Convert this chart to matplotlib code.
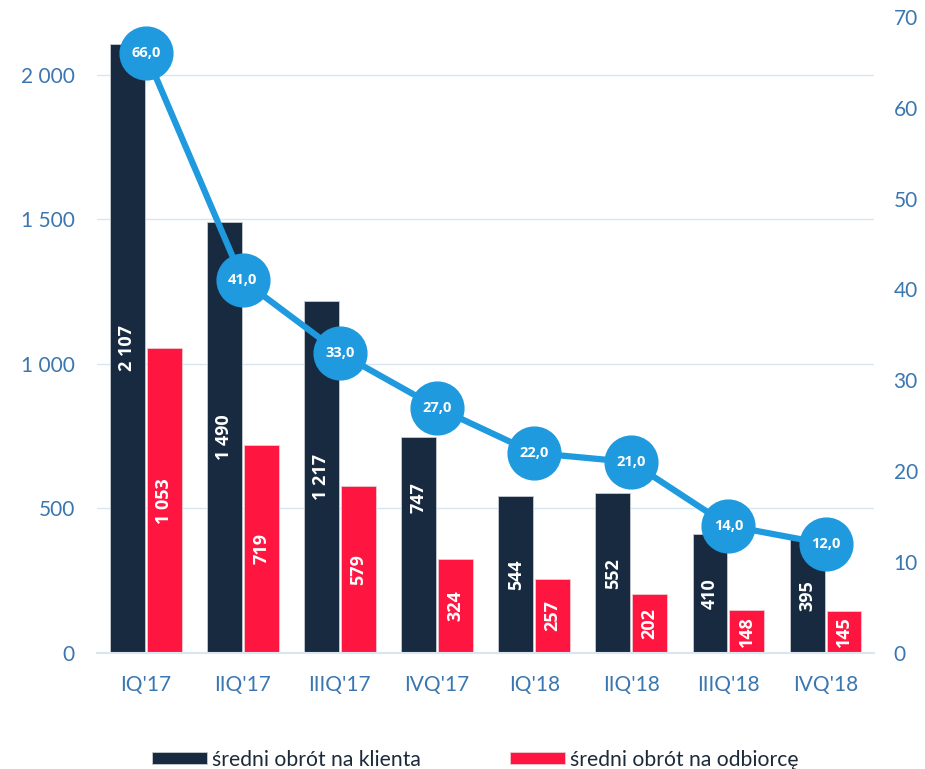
import matplotlib.pyplot as plt
import numpy as np

# data
quarters = ["IQ'17", "IIQ'17", "IIIQ'17", "IVQ'17", "IQ'18", "IIQ'18", "IIIQ'18", "IVQ'18"]
per_client = [2107, 1490, 1217, 747, 544, 552, 410, 395]
per_buyer = [1053, 719, 579, 324, 257, 202, 148, 145]
line_values = [66.0, 41.0, 33.0, 27.0, 22.0, 21.0, 14.0, 12.0]

dark = '#172a40'
red = '#ff1640'
blue = '#1f9ade'
tick_col = '#3a76b0'
grid_col = '#d8e6f2'


def fmt(v):
    return f"{v:,}".replace(',', ' ')


fig = plt.figure(figsize=(9.25, 7.69), dpi=100)
ax = fig.add_axes([0.105, 0.151, 0.84, 0.827])
ax2 = ax.twinx()

x = np.arange(len(quarters))
w = 0.36
b1 = ax.bar(x - 0.19, per_client, w, color=dark, edgecolor='#c8ccd2', linewidth=0.6, zorder=2,
            label='średni obrót na klienta')
b2 = ax.bar(x + 0.19, per_buyer, w, color=red, edgecolor='#f0c8d0', linewidth=0.6, zorder=2,
            label='średni obrót na odbiorcę')

for bars, vals in ((b1, per_client), (b2, per_buyer)):
    for r, v in zip(bars, vals):
        y = v / 2
        if v == 747:
            y = v * 0.72  # label sits higher in the source
        ax.text(r.get_x() + r.get_width() / 2, y, fmt(v), rotation=90, ha='center', va='center',
                color='white', fontsize=13, fontweight='bold', family='Open Sans', zorder=3)

ax.set_xlim(-0.5, len(quarters) - 0.5)
ax.set_ylim(0, 2200)
ax.set_yticks([0, 500, 1000, 1500, 2000])
ax.set_yticklabels([fmt(t) for t in [0, 500, 1000, 1500, 2000]])
ax.set_xticks(x)
ax.set_xticklabels(quarters)
ax.grid(axis='y', color=grid_col, linewidth=1, zorder=0)
ax.set_axisbelow(True)

ax2.plot(x, line_values, color=blue, linewidth=4.5, marker='o', markersize=38,
         markerfacecolor=blue, markeredgecolor=blue, zorder=4)
for xi, v in zip(x, line_values):
    ax2.text(xi, v, f"{v:.1f}".replace('.', ','), ha='center', va='center', color='white',
             fontsize=10.5, fontweight='bold', family='Open Sans', zorder=5)
ax2.set_ylim(0, 70)
ax2.set_yticks(range(0, 71, 10))

for a in (ax, ax2):
    for s in a.spines.values():
        s.set_visible(False)
    a.tick_params(length=0, labelsize=15, labelcolor=tick_col)
    for lbl in a.get_xticklabels() + a.get_yticklabels():
        lbl.set_family('Lato')
ax.spines['bottom'].set_visible(True)
ax.spines['bottom'].set_color(grid_col)
ax.spines['bottom'].set_linewidth(1.5)
ax.tick_params(axis='x', pad=16)
ax.tick_params(axis='y', pad=16)
ax2.tick_params(axis='y', pad=14)

fig.legend(handles=[b1, b2], loc='center', bbox_to_anchor=(0.514, 0.012), ncol=2, frameon=False,
           prop={'family': 'Lato', 'size': 15.2}, handlelength=2.6, handleheight=0.5,
           handletextpad=0.25, columnspacing=4.2, labelcolor='#1e2a3a')

fig.savefig('out.png', dpi=100)
